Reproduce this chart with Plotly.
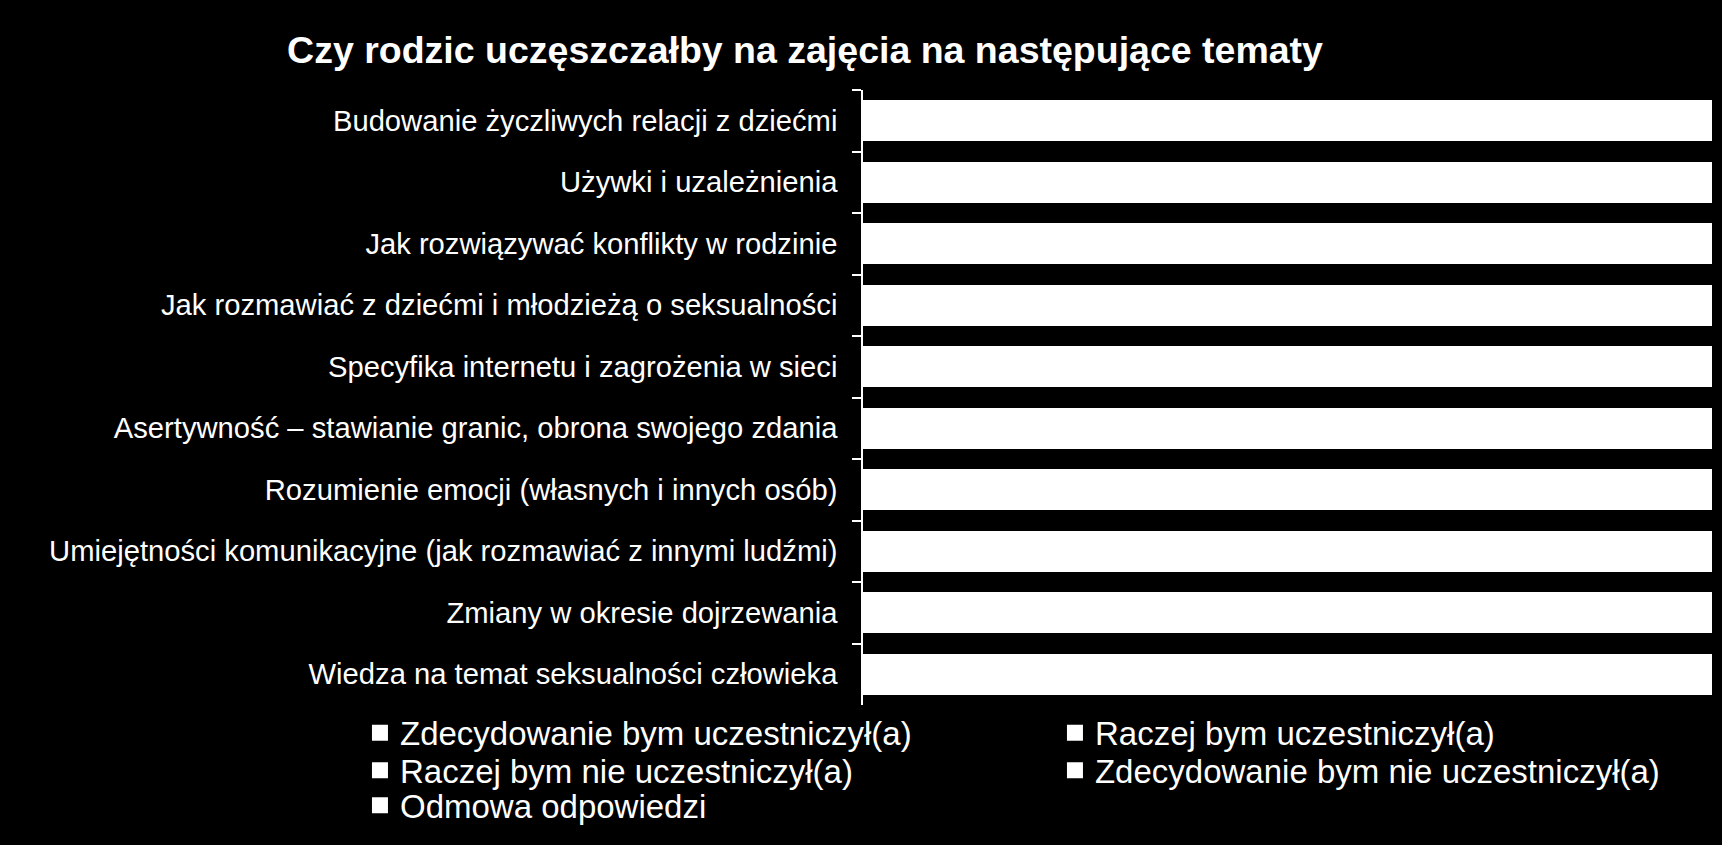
import plotly.graph_objects as go

categories = [
    "Budowanie życzliwych relacji z dziećmi",
    "Używki i uzależnienia",
    "Jak rozwiązywać konflikty w rodzinie",
    "Jak rozmawiać z dziećmi i młodzieżą o seksualności",
    "Specyfika internetu i zagrożenia w sieci",
    "Asertywność – stawianie granic, obrona swojego zdania",
    "Rozumienie emocji (własnych i innych osób)",
    "Umiejętności komunikacyjne (jak rozmawiać z innymi ludźmi)",
    "Zmiany w okresie dojrzewania",
    "Wiedza na temat seksualności człowieka",
]

series_names = [
    "Zdecydowanie bym uczestniczył(a)",
    "Raczej bym uczestniczył(a)",
    "Raczej bym nie uczestniczył(a)",
    "Zdecydowanie bym nie uczestniczył(a)",
    "Odmowa odpowiedzi",
]

# Estimated shares (%) - segments are all white in the reference, each bar totals 100%
zdecydowanie_tak = [38, 34, 32, 30, 33, 29, 28, 27, 26, 24]
raczej_tak = [37, 36, 38, 37, 35, 38, 39, 38, 37, 36]
raczej_nie = [15, 17, 18, 19, 18, 20, 20, 21, 22, 23]
zdecydowanie_nie = [7, 9, 9, 10, 10, 9, 10, 11, 12, 13]
odmowa = [3, 4, 3, 4, 4, 4, 3, 3, 3, 4]

series_values = [zdecydowanie_tak, raczej_tak, raczej_nie, zdecydowanie_nie, odmowa]
legend_slots = ["legend", "legend2", "legend3", "legend4", "legend5"]

FONT = "Liberation Sans, Arial, sans-serif"

fig = go.Figure()
for name, vals in zip(series_names, series_values):
    fig.add_trace(go.Bar(
        y=categories, x=vals, name=name, orientation="h",
        marker=dict(color="white", line=dict(width=0)),
        legendgroup=name, showlegend=False,
    ))

# legend entries (square white keys)
for name, slot in zip(series_names, legend_slots):
    fig.add_trace(go.Scatter(
        x=[None], y=[None], mode="markers", name=name,
        marker=dict(symbol="square", size=16, color="white"),
        legendgroup=name, legend=slot, showlegend=True,
    ))

legend_common = dict(
    orientation="h",
    xanchor="left", yanchor="middle",
    font=dict(family=FONT, size=33, color="white"),
    traceorder="normal",
    itemclick=False, itemdoubleclick=False,
    itemsizing="trace",
    bgcolor="rgba(0,0,0,0)",
)

col1_x, col2_x = -0.5925, 0.2261
row_y = [-0.045, -0.106, -0.163]

fig.update_layout(
    width=1722, height=845,
    barmode="stack",
    bargap=0.33,
    paper_bgcolor="black",
    plot_bgcolor="black",
    margin=dict(l=863, r=10, t=90, b=140),
    font=dict(family=FONT, color="white"),
    title=dict(
        text="<b>Czy rodzic uczęszczałby na zajęcia na następujące tematy</b>",
        font=dict(family=FONT, size=37.5, color="white"),
        x=0.4675, xanchor="center", xref="container",
        y=0.941, yanchor="middle", yref="container",
    ),
    xaxis=dict(range=[0, 100], visible=False, showgrid=False, zeroline=False),
    yaxis=dict(
        autorange="reversed",
        showline=True, linecolor="white", linewidth=1.5,
        ticks="outside", ticklen=9, tickcolor="white", tickwidth=1.5,
        tickson="boundaries",
        ticklabelstandoff=18,
        tickfont=dict(family=FONT, size=29.2, color="white"),
        showgrid=False, zeroline=False,
    ),
    legend=dict(legend_common, x=col1_x, y=row_y[0]),
    legend2=dict(legend_common, x=col2_x, y=row_y[0]),
    legend3=dict(legend_common, x=col1_x, y=row_y[1]),
    legend4=dict(legend_common, x=col2_x, y=row_y[1]),
    legend5=dict(legend_common, x=col1_x, y=row_y[2]),
    showlegend=True,
)

fig.write_html(
    "out.html",
    config={"displayModeBar": False},
    post_script="document.body.style.margin='0';document.body.style.background='black';",
)
